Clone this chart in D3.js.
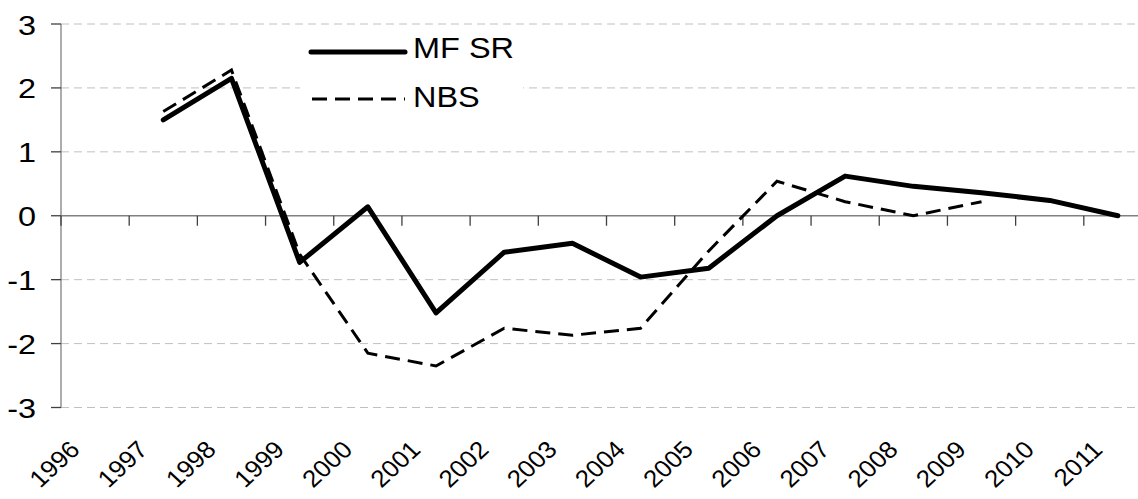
<!DOCTYPE html>
<html>
<head>
<meta charset="utf-8">
<script src="https://cdn.jsdelivr.net/npm/d3@7"></script>
<style>
  body { margin: 0; background: #fff; }
  text { font-family: "Liberation Sans", Arial, sans-serif; fill: #000; }
</style>
</head>
<body>
<svg width="1138" height="499"></svg>
<script>
var years = ["1996", "1997", "1998", "1999", "2000", "2001", "2002", "2003",
             "2004", "2005", "2006", "2007", "2008", "2009", "2010", "2011"];
var mfsr = [null, 1.5, 2.15, -0.73, 0.14, -1.52, -0.57, -0.43, -0.96, -0.82, 0.0, 0.62, 0.46, 0.36, 0.24, 0.0];
var nbs = [null, 1.63, 2.28, -0.6, -2.15, -2.35, -1.76, -1.87, -1.76, -0.55, 0.54, 0.22, 0.0, 0.22, null, null];
var yTicks = [-3, -2, -1, 0, 1, 2, 3];
var seriesNames = ["MF SR", "NBS"];

var svg = d3.select("svg"),
    width = +svg.attr("width"),
    height = +svg.attr("height");

var x = d3.scaleBand().domain(years).range([61, 1152]).padding(0);
var y = d3.scaleLinear().domain([-3, 3]).range([407.5, 24]);

function cx(d) { return x(d) + x.bandwidth() / 2; }

// gridlines
svg.append("g")
    .selectAll("line")
    .data(yTicks.filter(function(d) { return d !== 0; }))
    .enter().append("line")
    .attr("x1", 61).attr("x2", width)
    .attr("y1", function(d) { return y(d); })
    .attr("y2", function(d) { return y(d); })
    .attr("stroke", "#c0c0c0")
    .attr("stroke-width", 1)
    .attr("stroke-dasharray", "8,5");

// y axis
svg.append("line")
    .attr("x1", 61).attr("x2", 61)
    .attr("y1", y(3)).attr("y2", y(-3))
    .attr("stroke", "#808080").attr("stroke-width", 1.3);

svg.append("g")
    .selectAll("line")
    .data(yTicks)
    .enter().append("line")
    .attr("x1", 51).attr("x2", 61)
    .attr("y1", function(d) { return y(d); })
    .attr("y2", function(d) { return y(d); })
    .attr("stroke", "#404040").attr("stroke-width", 1.3);

svg.append("g")
    .selectAll("text")
    .data(yTicks)
    .enter().append("text")
    .attr("text-anchor", "end")
    .attr("dominant-baseline", "central")
    .attr("font-size", 27)
    .attr("transform", function(d) { return "translate(36," + (y(d) + 1) + ") scale(1.2,1)"; })
    .text(function(d) { return d; });

// x axis at zero
svg.append("line")
    .attr("x1", 61).attr("x2", width)
    .attr("y1", y(0)).attr("y2", y(0))
    .attr("stroke", "#808080").attr("stroke-width", 1.3);

svg.append("g")
    .selectAll("line")
    .data(years)
    .enter().append("line")
    .attr("x1", function(d) { return x(d); })
    .attr("x2", function(d) { return x(d); })
    .attr("y1", y(0)).attr("y2", y(0) + 10)
    .attr("stroke", "#404040").attr("stroke-width", 1.3);

// year labels, rotated
svg.append("g")
    .selectAll("text")
    .data(years)
    .enter().append("text")
    .attr("text-anchor", "end")
    .attr("font-size", 24)
    .attr("transform", function(d) {
        return "translate(" + (cx(d) - 14) + ",451) scale(1.08,1) rotate(-45)";
    })
    .text(function(d) { return d; });

// lines
var line = d3.line()
    .defined(function(d) { return d.v !== null; })
    .x(function(d) { return cx(d.year); })
    .y(function(d) { return y(d.v); });

function pts(arr) {
    return years.map(function(yr, i) { return {year: yr, v: arr[i]}; });
}

svg.append("path")
    .attr("d", line(pts(nbs)))
    .attr("fill", "none")
    .attr("stroke", "#000")
    .attr("stroke-width", 3)
    .attr("stroke-dasharray", "15,8");

svg.append("path")
    .attr("d", line(pts(mfsr)))
    .attr("fill", "none")
    .attr("stroke", "#000")
    .attr("stroke-width", 5)
    .attr("stroke-linejoin", "round")
    .attr("stroke-linecap", "round");

// legend
var lg = svg.append("g");
lg.append("rect")
    .attr("x", 300).attr("y", 30).attr("width", 223).attr("height", 92)
    .attr("fill", "#fff");

lg.append("line")
    .attr("x1", 311).attr("x2", 405).attr("y1", 52).attr("y2", 52)
    .attr("stroke", "#000").attr("stroke-width", 5).attr("stroke-linecap", "round");

lg.append("line")
    .attr("x1", 312).attr("x2", 405).attr("y1", 99).attr("y2", 99)
    .attr("stroke", "#000").attr("stroke-width", 3).attr("stroke-dasharray", "15,8");

lg.selectAll("text")
    .data(seriesNames)
    .enter().append("text")
    .attr("font-size", 29)
    .attr("transform", function(d, i) { return "translate(413," + (i === 0 ? 57.5 : 106.5) + ") scale(1.12,1)"; })
    .text(function(d) { return d; });
</script>
</body>
</html>
